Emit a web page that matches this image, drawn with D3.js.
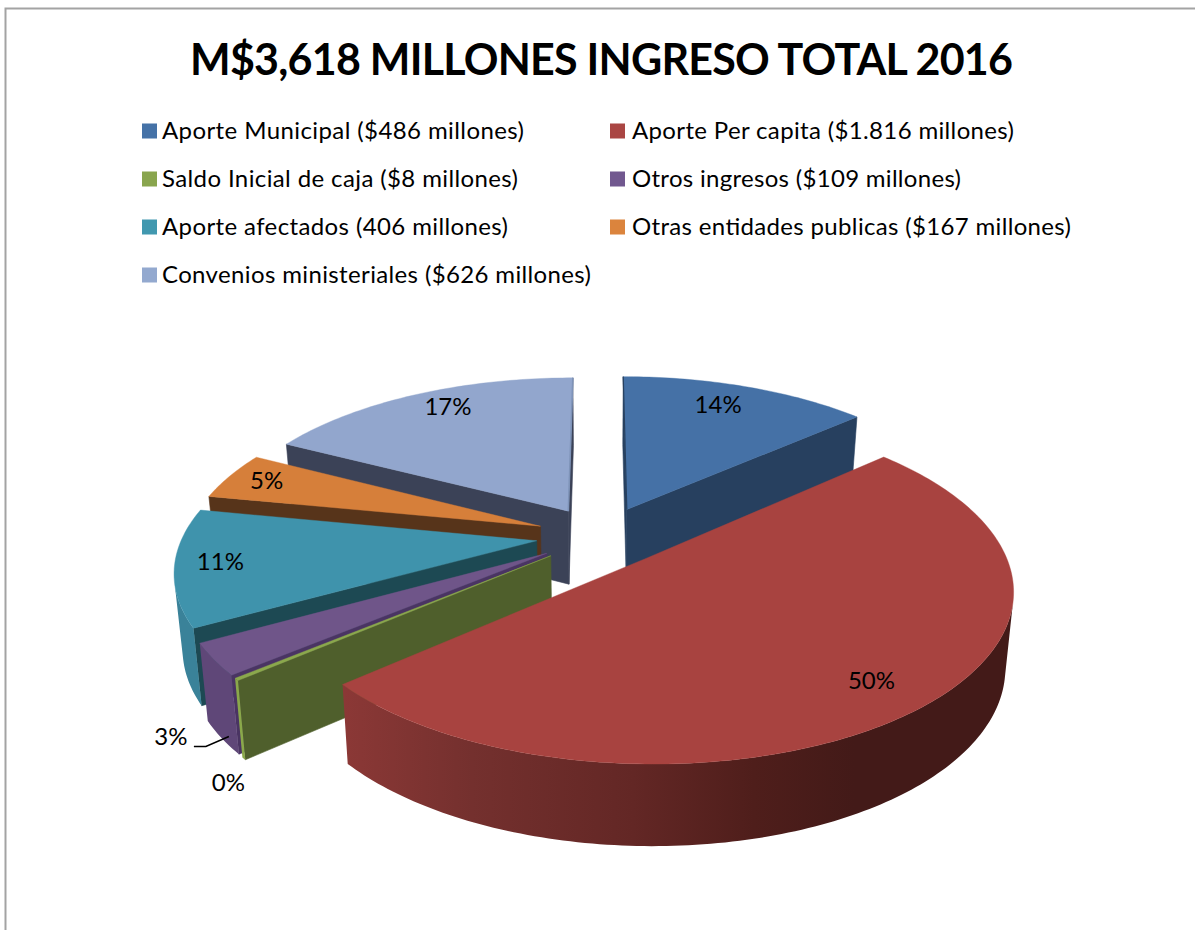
<!DOCTYPE html>
<html>
<head>
<meta charset="utf-8">
<script src="https://cdn.jsdelivr.net/npm/d3@7"></script>
<style>
html,body{margin:0;padding:0;background:#fff;overflow:hidden}
svg{display:block}
text{font-family:Lato,"Open Sans",sans-serif;fill:#000}
</style>
</head>
<body>
<svg id="chart" width="1195" height="930"></svg>
<script>
// ---- data ----
const titleText = "M$3,618 MILLONES INGRESO TOTAL 2016";
const categories = [
  "Aporte Municipal ($486 millones)",
  "Aporte Per capita ($1.816 millones)",
  "Saldo Inicial de caja ($8 millones)",
  "Otros ingresos ($109 millones)",
  "Aporte afectados (406 millones)",
  "Otras entidades publicas ($167 millones)",
  "Convenios ministeriales ($626 millones)"
];
const values = [486, 1816, 8, 109, 406, 167, 626];
const percentLabels = ["14%", "50%", "0%", "3%", "11%", "5%", "17%"];

// ---- styles ----
const topColors    = ["#4571a6", "#a84340", "#8ba84c", "#6f5589", "#3f93ac", "#d67f3a", "#92a6cd"];
const legendColors = ["#4572a7", "#aa4643", "#89a54e", "#71588f", "#4198af", "#db843d", "#93a9cf"];
const radialColors = ["#27405f", "#6e2c2a", "#4f5f2c", "#4a3463", "#1d4953", "#57341a", "#3b4257"];
const outerColors  = ["#2f4d72", "url(#redWall)", "#8aa84a", "#5f4778", "#3a8299", "#a86030", "#7e93b8"];
const paintOrder = [6, 0, 5, 4, 3, 2, 1];
const redWallOffsets = [0, 0.19, 0.43, 0.61, 0.76, 1];
const redWallColors = ["#8b3836", "#74302e", "#632725", "#4f1e1b", "#431a18", "#431a18"];

// ---- layout ----
const view = {cx: 601, cy: 536, f: 354, q: 0.46, persp: 0.165, depth: 74, bottomShrink: 0.98, explode: 0.183, step: 1};
const labelNudge = [[-6,-4],[10,8],[-76,131],[-114,101],[-27,0],[-22,-5],[6,-9]];
const legendWidths = [362, 382, 356, 329, 346, 439, 429];
const legendCols = [{sw:142, tx:162}, {sw:610, tx:632}];
const legendTop = 131, legendRow = 48, swatch = 15;

const svg = d3.select("#chart");

const grad = svg.append("defs").append("linearGradient").attr("id","redWall")
  .attr("gradientUnits","userSpaceOnUse").attr("x1",345).attr("x2",1015).attr("y1",0).attr("y2",0);
redWallOffsets.forEach((o,i)=>grad.append("stop").attr("offset",o).attr("stop-color",redWallColors[i]));

// frame
svg.append("path").attr("d", "M5.5,930V8.5H1195").attr("fill","none").attr("stroke","#a3a3a3").attr("stroke-width",2);

// title
svg.append("text").attr("x",601.5).attr("y",75).attr("text-anchor","middle")
  .attr("font-size",43).attr("font-weight",700)
  .attr("textLength",823).attr("lengthAdjust","spacing").text(titleText);

// legend
const legend = svg.append("g");
categories.forEach((c,i)=>{
  const col = legendCols[i%2], y = legendTop + legendRow*Math.floor(i/2);
  legend.append("rect").attr("x",col.sw).attr("y",y-swatch/2).attr("width",swatch).attr("height",swatch).attr("fill",legendColors[i]);
  legend.append("text").attr("x",col.tx).attr("y",y+8).attr("font-size",24)
    .attr("textLength",legendWidths[i]).attr("lengthAdjust","spacing").text(c);
});

// projection of the pie plane: u to the right, v toward the viewer, angle clockwise from north
const project = (a, r, mid) => {
  const u = Math.sin(a)*r + Math.sin(mid)*view.explode;
  const v = -Math.cos(a)*r - Math.cos(mid)*view.explode;
  const w = 1/(1 - view.persp*v);
  const x = view.cx + view.f*u*w;
  const y = view.cy + view.f*view.q*v*w;
  return {top:[x,y], bottom:[view.cx + (x-view.cx)*view.bottomShrink, y + view.depth*Math.sqrt(w)]};
};
const poly = d3.line();

const arcs = d3.pie().sort(null).startAngle(0).endAngle(2*Math.PI)(values);

const chart = svg.append("g");
paintOrder.forEach(i=>{
  const d = arcs[i], mid = (d.startAngle+d.endAngle)/2;
  const n = Math.max(2, Math.ceil((d.endAngle-d.startAngle)*180/Math.PI/view.step));
  const rim = d3.range(n+1).map(k=>d.startAngle+(d.endAngle-d.startAngle)*k/n);
  const apex = project(0,0,mid);
  const outer = rim.map(a=>project(a,1,mid));
  const g = chart.append("g");

  const faces = (p,q)=> (q.top[0]-p.top[0])*(p.bottom[1]-p.top[1]) - (q.top[1]-p.top[1])*(p.bottom[0]-p.top[0]) < 0;
  const quad = (p,q,color)=>{
    if (!faces(p,q)) return;
    g.append("path").attr("d",poly([p.top,q.top,q.bottom,p.bottom])+"Z")
      .attr("fill",color).attr("stroke",color).attr("stroke-width",0.6);
  };
  // radial walls
  quad(outer[n],apex,radialColors[i]);
  quad(apex,outer[0],radialColors[i]);
  // curved wall, as a single face over the part turned to the viewer
  const seen = d3.range(n).filter(k=>faces(outer[k],outer[k+1]));
  if (seen.length){
    const run = d3.range(seen[0], seen[seen.length-1]+2).map(k=>outer[k]);
    g.append("path").attr("d",poly([...run.map(p=>p.top),...run.slice().reverse().map(p=>p.bottom)])+"Z")
      .attr("fill",outerColors[i]);
  }
  // top face
  g.append("path").attr("d",poly([apex.top,...outer.map(p=>p.top)])+"Z")
    .attr("fill",topColors[i]).attr("stroke",topColors[i]).attr("stroke-width",0.4);
  // thin bevel along the radial edge that is almost edge-on
  if (i===6) g.append("path").attr("d",poly([outer[n].top,apex.top])).attr("fill","none").attr("stroke",outerColors[6]).attr("stroke-width",1.6);
  if (i===0) g.append("path").attr("d",poly([outer[0].top,apex.top])).attr("fill","none").attr("stroke",radialColors[0]).attr("stroke-width",1.2);
});

// percent labels
arcs.forEach((d,i)=>{
  const mid=(d.startAngle+d.endAngle)/2, p=project(mid,0.8,mid).top;
  svg.append("text").attr("x",p[0]+labelNudge[i][0]-1).attr("y",p[1]+labelNudge[i][1]+8)
    .attr("text-anchor","middle").attr("font-size",24).text(percentLabels[i]);
});

// leader for the 3% label, attached to the purple slice
const mid3 = (arcs[3].startAngle+arcs[3].endAngle)/2;
const lead = project(mid3,0.8,mid3).top;
const lx = lead[0]+labelNudge[3][0], ly = lead[1]+labelNudge[3][1];
svg.append("path").attr("d",poly([[lx+22,ly+9],[lx+34,ly+9],[lx+57,ly-1]]))
  .attr("fill","none").attr("stroke","#000").attr("stroke-width",1.5);
</script>
</body>
</html>
